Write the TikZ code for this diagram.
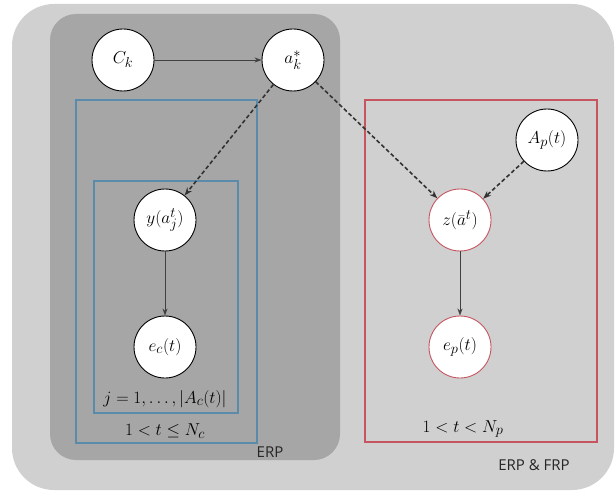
\documentclass[tikz,border=0pt]{standalone}
\usepackage{fontspec}
\newfontfamily\labelfont{Open Sans}
\usetikzlibrary{arrows.meta}
\definecolor{outerbg}{HTML}{D0D0D0}
\definecolor{innerbg}{HTML}{A6A6A6}
\definecolor{plateblue}{HTML}{5A8BAA}
\definecolor{platered}{HTML}{C65560}
\tikzset{
  var/.style={circle, draw=black, fill=white, line width=0.9pt, minimum size=62pt, inner sep=0pt, font=\fontsize{19}{22}\selectfont},
  redvar/.style={var, draw=platered},
  bplate/.style={draw=plateblue, line width=2.2pt},
  rplate/.style={draw=platered, line width=2.2pt},
  solidedge/.style={draw=black!75, line width=0.8pt, -{Stealth[length=7pt,width=5pt]}},
  dashedge/.style={draw=black!80, line width=1.6pt, dash pattern=on 4pt off 2.5pt, -{Stealth[length=8pt,width=6pt]}},
  platelabel/.style={font=\fontsize{19}{22}\selectfont, inner sep=0pt},
  grouplabel/.style={font=\labelfont\fontsize{15}{17}\selectfont, inner sep=0pt, text=black!85}
}
\begin{document}
\begin{tikzpicture}[x=1pt,y=-1pt]
\useasboundingbox (0,0) rectangle (616,492);
\fill[white] (0,0) rectangle (616,492);
% backgrounds
\fill[outerbg, rounded corners=42pt] (12,4) rectangle (614,490);
\fill[innerbg, rounded corners=26pt] (50,14) rectangle (340,460);
% plates
\draw[bplate] (76,100) rectangle (257,443);
\draw[bplate] (94,181) rectangle (238,413);
\draw[rplate] (365,100) rectangle (597,442);
% nodes
\node[var] (ck) at (123,60) {$C_k$};
\node[var] (ak) at (293,60) {$a_k^*$};
\node[var] (y) at (165,220) {$y(a_j^t)$};
\node[var] (ec) at (165,347) {$e_c(t)$};
\node[var] (ap) at (547,140) {$A_p(t)$};
\node[redvar] (z) at (460,220) {$z(\bar{a}^t)$};
\node[redvar] (ep) at (460,347) {$e_p(t)$};
% labels
\node[platelabel] (lj) at (165,399) {$j=1,\ldots,|A_c(t)|$};
\node[platelabel] (lc) at (165,431) {$1<t\leq N_c$};
\node[platelabel] (lp) at (463,429) {$1<t<N_p$};
\node[grouplabel] (erp) at (270,452) {ERP};
\node[grouplabel] (erpfrp) at (534,465) {ERP \& FRP};
% edges
\draw[solidedge] (ck) -- (ak);
\draw[solidedge] (y) -- (ec);
\draw[solidedge] (z) -- (ep);
\draw[dashedge] (ak) -- (y);
\draw[dashedge] (ak) -- (z);
\draw[dashedge] (ap) -- (z);
\end{tikzpicture}
\end{document}
